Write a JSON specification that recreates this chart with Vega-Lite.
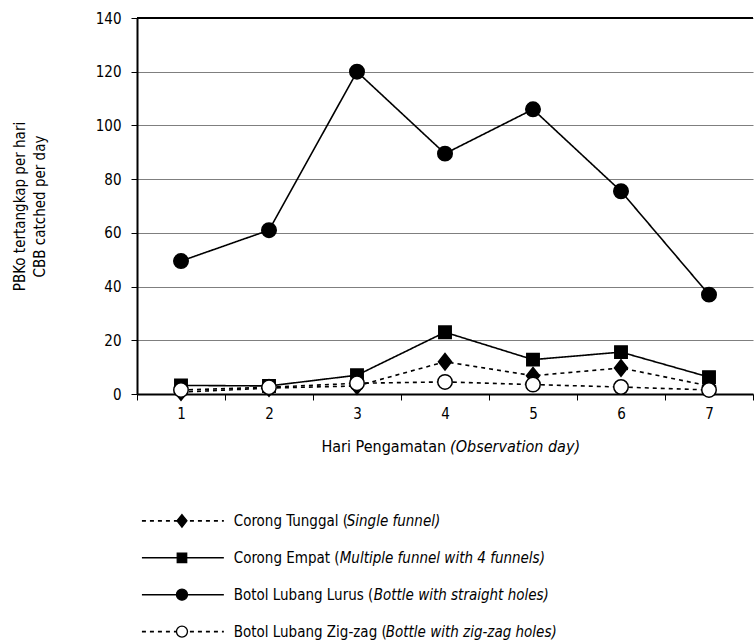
{
  "$schema": "https://vega.github.io/schema/vega-lite/v6.json",
  "background": "white",
  "padding": {"left": 12, "top": 11, "right": 0, "bottom": 0},
  "bounds": "flush",
  "spacing": 5,
  "config": {
    "view": {"stroke": null},
    "font": "DejaVu Sans Condensed, Liberation Sans, sans-serif",
    "text": {"font": "DejaVu Sans Condensed, Liberation Sans, sans-serif", "color": "black"}
  },
  "datasets": {
    "catch": [
      {"day": 1, "series": "Corong Tunggal", "value": 0.7},
      {"day": 2, "series": "Corong Tunggal", "value": 2.2},
      {"day": 3, "series": "Corong Tunggal", "value": 3},
      {"day": 4, "series": "Corong Tunggal", "value": 12},
      {"day": 5, "series": "Corong Tunggal", "value": 6.8},
      {"day": 6, "series": "Corong Tunggal", "value": 9.7},
      {"day": 7, "series": "Corong Tunggal", "value": 3},
      {"day": 1, "series": "Corong Empat", "value": 3.2},
      {"day": 2, "series": "Corong Empat", "value": 3},
      {"day": 3, "series": "Corong Empat", "value": 7},
      {"day": 4, "series": "Corong Empat", "value": 23},
      {"day": 5, "series": "Corong Empat", "value": 12.8},
      {"day": 6, "series": "Corong Empat", "value": 15.6},
      {"day": 7, "series": "Corong Empat", "value": 6.3},
      {"day": 1, "series": "Botol Lubang Lurus", "value": 49.5},
      {"day": 2, "series": "Botol Lubang Lurus", "value": 61},
      {"day": 3, "series": "Botol Lubang Lurus", "value": 120},
      {"day": 4, "series": "Botol Lubang Lurus", "value": 89.5},
      {"day": 5, "series": "Botol Lubang Lurus", "value": 106},
      {"day": 6, "series": "Botol Lubang Lurus", "value": 75.5},
      {"day": 7, "series": "Botol Lubang Lurus", "value": 37},
      {"day": 1, "series": "Botol Lubang Zig-zag", "value": 1.5},
      {"day": 2, "series": "Botol Lubang Zig-zag", "value": 2.5},
      {"day": 3, "series": "Botol Lubang Zig-zag", "value": 4},
      {"day": 4, "series": "Botol Lubang Zig-zag", "value": 4.5},
      {"day": 5, "series": "Botol Lubang Zig-zag", "value": 3.5},
      {"day": 6, "series": "Botol Lubang Zig-zag", "value": 2.6},
      {"day": 7, "series": "Botol Lubang Zig-zag", "value": 1.5}
    ],
    "legend": [
      {"series": "Corong Tunggal", "row": 2, "name": "Corong Tunggal (", "note": "Single funnel)"},
      {"series": "Corong Empat", "row": 3, "name": "Corong Empat (", "note": "Multiple funnel with 4 funnels)"},
      {"series": "Botol Lubang Lurus", "row": 4, "name": "Botol Lubang Lurus (", "note": "Bottle with straight holes)"},
      {"series": "Botol Lubang Zig-zag", "row": 5, "name": "Botol Lubang Zig-zag (", "note": "Bottle with zig-zag holes)"}
    ],
    "xtitle": [{"a": "Hari Pengamatan", "b": "(Observation day)"}]
  },
  "vconcat": [
    {
      "width": 616,
      "height": 376,
      "layer": [
        {
          "data": {"values": [{}]},
          "mark": {"type": "rule", "color": "black", "strokeWidth": 2},
          "encoding": {"y": {"datum": 140, "type": "quantitative"}}
        },
        {
          "data": {"name": "catch"},
          "mark": {"type": "line", "color": "black", "strokeWidth": 1.6},
          "encoding": {
            "x": {
              "field": "day", "type": "ordinal", "bandPosition": 0.5,
              "scale": {"type": "band", "paddingInner": 0, "paddingOuter": 0},
              "axis": {
                "title": null, "labelAngle": 0, "labelFontSize": 15, "labelColor": "black",
                "labelPadding": 6, "tickBand": "extent", "tickColor": "black", "tickSize": 6,
                "domainColor": "black", "domainWidth": 2, "grid": false
              }
            },
            "y": {
              "field": "value", "type": "quantitative",
              "scale": {"domain": [0, 140], "nice": false},
              "axis": {
                "values": [0, 20, 40, 60, 80, 100, 120, 140],
                "grid": true, "gridColor": "#7f7f7f", "gridWidth": 1,
                "domainColor": "black", "domainWidth": 2, "tickColor": "black", "tickSize": 6,
                "labelFontSize": 15, "labelColor": "black", "labelPadding": 10,
                "title": ["PBKo tertangkap per hari", "CBB catched per day"],
                "titleFontSize": 15, "titleFontWeight": "normal", "titleColor": "black",
                "titlePadding": 48, "titleLineHeight": 20
              }
            },
            "detail": {"field": "series", "type": "nominal"},
            "strokeDash": {
              "field": "series", "type": "nominal", "legend": null,
              "scale": {
                "domain": ["Corong Tunggal", "Corong Empat", "Botol Lubang Lurus", "Botol Lubang Zig-zag"],
                "range": [[4, 4], [1, 0], [1, 0], [4, 4]]
              }
            }
          }
        },
        {
          "data": {"name": "catch"},
          "mark": {"type": "point", "filled": true, "stroke": "black", "strokeWidth": 1.5, "size": 190, "opacity": 1},
          "encoding": {
            "x": {"field": "day", "type": "ordinal", "bandPosition": 0.5},
            "y": {"field": "value", "type": "quantitative"},
            "shape": {
              "field": "series", "type": "nominal", "legend": null,
              "scale": {
                "domain": ["Corong Tunggal", "Corong Empat", "Botol Lubang Lurus", "Botol Lubang Zig-zag"],
                "range": [
                  "M0,-1.2L0.95,0L0,1.2L-0.95,0Z",
                  "M-0.9,-0.9L0.9,-0.9L0.9,0.9L-0.9,0.9Z",
                  "M1.05,0A1.05,1.05,0,1,1,-1.05,0A1.05,1.05,0,1,1,1.05,0Z",
                  "M1.05,0A1.05,1.05,0,1,1,-1.05,0A1.05,1.05,0,1,1,1.05,0Z"
                ]
              }
            },
            "fill": {
              "field": "series", "type": "nominal", "legend": null,
              "scale": {
                "domain": ["Corong Tunggal", "Corong Empat", "Botol Lubang Lurus", "Botol Lubang Zig-zag"],
                "range": ["black", "black", "black", "white"]
              }
            }
          }
        }
      ]
    },
    {
      "width": 616,
      "height": 240,
      "layer": [
        {
          "data": {"name": "xtitle"},
          "mark": {"type": "text", "align": "right", "baseline": "middle", "fontSize": 16, "dx": -2},
          "encoding": {
            "x": {"datum": 50.5, "type": "quantitative", "scale": {"domain": [0, 100], "nice": false, "zero": false}, "axis": null},
            "y": {"datum": 0, "type": "quantitative", "scale": {"domain": [-1.3, 5.2], "reverse": true, "nice": false, "zero": false}, "axis": null},
            "text": {"field": "a"}
          }
        },
        {
          "data": {"name": "xtitle"},
          "mark": {"type": "text", "align": "left", "baseline": "middle", "fontSize": 16, "dx": 2, "fontStyle": "italic"},
          "encoding": {
            "x": {"datum": 50.5, "type": "quantitative"},
            "y": {"datum": 0, "type": "quantitative"},
            "text": {"field": "b"}
          }
        },
        {
          "data": {"name": "legend"},
          "mark": {"type": "rule", "color": "black", "strokeWidth": 1.6},
          "encoding": {
            "x": {"datum": 0.8, "type": "quantitative"},
            "x2": {"datum": 14.1},
            "y": {"field": "row", "type": "quantitative"},
            "strokeDash": {"field": "series", "type": "nominal", "legend": null}
          }
        },
        {
          "data": {"name": "legend"},
          "mark": {"type": "point", "filled": true, "stroke": "black", "strokeWidth": 1.3, "size": 110, "opacity": 1},
          "encoding": {
            "x": {"datum": 7.3, "type": "quantitative"},
            "y": {"field": "row", "type": "quantitative"},
            "shape": {"field": "series", "type": "nominal", "legend": null},
            "fill": {"field": "series", "type": "nominal", "legend": null}
          }
        },
        {
          "data": {"name": "legend"},
          "mark": {"type": "text", "align": "left", "baseline": "middle", "fontSize": 15},
          "encoding": {
            "x": {"datum": 15.7, "type": "quantitative"},
            "y": {"field": "row", "type": "quantitative"},
            "text": {"field": "name"}
          }
        },
        {
          "data": {"name": "legend"},
          "transform": [{"filter": "datum.row == 2"}],
          "mark": {"type": "text", "align": "left", "baseline": "middle", "fontSize": 15, "fontStyle": "italic", "dx": 113},
          "encoding": {
            "x": {"datum": 15.7, "type": "quantitative"},
            "y": {"field": "row", "type": "quantitative"},
            "text": {"field": "note"}
          }
        },
        {
          "data": {"name": "legend"},
          "transform": [{"filter": "datum.row == 3"}],
          "mark": {"type": "text", "align": "left", "baseline": "middle", "fontSize": 15, "fontStyle": "italic", "dx": 106},
          "encoding": {
            "x": {"datum": 15.7, "type": "quantitative"},
            "y": {"field": "row", "type": "quantitative"},
            "text": {"field": "note"}
          }
        },
        {
          "data": {"name": "legend"},
          "transform": [{"filter": "datum.row == 4"}],
          "mark": {"type": "text", "align": "left", "baseline": "middle", "fontSize": 15, "fontStyle": "italic", "dx": 140},
          "encoding": {
            "x": {"datum": 15.7, "type": "quantitative"},
            "y": {"field": "row", "type": "quantitative"},
            "text": {"field": "note"}
          }
        },
        {
          "data": {"name": "legend"},
          "transform": [{"filter": "datum.row == 5"}],
          "mark": {"type": "text", "align": "left", "baseline": "middle", "fontSize": 15, "fontStyle": "italic", "dx": 152},
          "encoding": {
            "x": {"datum": 15.7, "type": "quantitative"},
            "y": {"field": "row", "type": "quantitative"},
            "text": {"field": "note"}
          }
        }
      ]
    }
  ]
}
